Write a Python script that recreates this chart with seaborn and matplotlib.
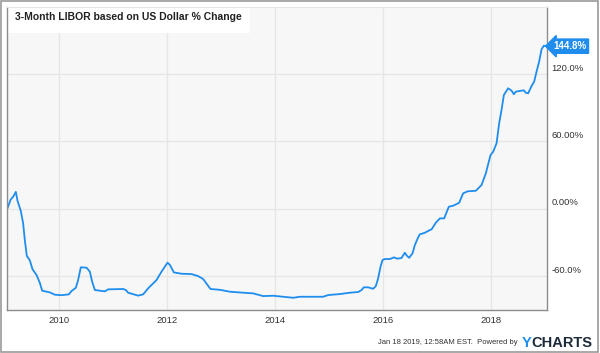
import matplotlib
matplotlib.use("Agg")
import matplotlib.pyplot as plt
import matplotlib.transforms as mtransforms
from matplotlib.patches import Rectangle
import seaborn as sns
import pandas as pd

# --- data (decimal year, % change) ---
years = [
    2009.05, 2009.106, 2009.154, 2009.204, 2009.235, 2009.296, 2009.339, 2009.37,
    2009.407, 2009.463, 2009.513, 2009.587, 2009.648, 2009.691, 2009.833, 2009.926,
    2010.05, 2010.185, 2010.235, 2010.315, 2010.357, 2010.407, 2010.513, 2010.574,
    2010.617, 2010.667, 2010.852, 2010.913, 2011.191, 2011.241, 2011.283, 2011.469,
    2011.561, 2011.654, 2011.809, 2011.902, 2012.013, 2012.056, 2012.13, 2012.272,
    2012.457, 2012.58, 2012.672, 2012.809, 2012.981, 2013.167, 2013.413, 2013.598,
    2013.783, 2013.969, 2014.154, 2014.339, 2014.463, 2014.587, 2014.894, 2014.987,
    2015.204, 2015.389, 2015.543, 2015.606, 2015.648, 2015.728, 2015.82, 2015.87,
    2015.913, 2015.957, 2015.994, 2016.037, 2016.13, 2016.209, 2016.265, 2016.346,
    2016.407, 2016.439, 2016.487, 2016.55, 2016.593, 2016.654, 2016.685, 2016.778,
    2016.87, 2016.902, 2016.981, 2017.056, 2017.135, 2017.222, 2017.302, 2017.413,
    2017.487, 2017.569, 2017.722, 2017.828, 2017.907, 2017.994, 2018.043, 2018.106,
    2018.154, 2018.198, 2018.241, 2018.32, 2018.383, 2018.426, 2018.463, 2018.569,
    2018.611, 2018.648, 2018.691, 2018.754, 2018.802, 2018.846, 2018.894, 2018.939,
    2018.981, 2019.04,
]
pct_change = [
    0.5, 8, 10.7, 15, 7, -2, -13, -28,
    -42, -46, -54, -59, -66, -73, -74.5, -76.6,
    -77, -76.3, -73.3, -70.4, -63.5, -52.2, -52.5, -56,
    -65, -72.4, -73.6, -71.8, -71.5, -72.4, -74.8, -77.4,
    -76.3, -70.9, -63.5, -56, -48, -50, -56.7, -57.9,
    -58.2, -60, -62.6, -71.5, -72.2, -73.9, -74.8, -75.4,
    -77.8, -77.5, -78.4, -79.3, -78.4, -78.4, -78.4, -76.9,
    -76, -74.8, -74.2, -72.4, -70, -70, -71.3, -68.9,
    -62, -51.6, -45.7, -44.8, -44.8, -43.3, -44.5, -43.9,
    -39.2, -41.5, -43.7, -39.7, -32.3, -25.5, -22.8, -21.4,
    -19, -18.4, -12.5, -8.6, -8.6, 1.8, 2.7, 5.3,
    13.7, 15.5, 16, 21.1, 31.5, 47.8, 50.8, 58.3,
    76.1, 88, 101.3, 107.3, 105.2, 102, 104.3, 105.2,
    105.5, 103.3, 102.8, 109.3, 113.2, 122, 131, 142,
    145.2, 144.8,
]
x_ticks = [2010, 2012, 2014, 2016, 2018]
y_ticks = [-60, 0, 60, 120]
y_tick_labels = ["-60.0%", "0.00%", "60.00%", "120.0%"]
last_label = "144.8%"

BLUE = "#1f8ded"

sns.set_style("whitegrid", {
    "axes.facecolor": "#f7f7f7",
    "grid.color": "#e6e6e6",
    "axes.edgecolor": "#8c8c8c",
})
plt.rcParams["font.family"] = ["Liberation Sans", "DejaVu Sans"]

df = pd.DataFrame({"year": years, "pct": pct_change})

fig = plt.figure(figsize=(6, 3.53), dpi=100)
ax = fig.add_axes([7 / 600, 43 / 353, 540 / 600, 303 / 353])

sns.lineplot(data=df, x="year", y="pct", ax=ax, color=BLUE, linewidth=1.3)

ax.set_xlim(2009.04, 2019.04)
ax.set_ylim(-90.2, 179.7)
ax.set_xticks(x_ticks)
ax.set_xticklabels([str(t) for t in x_ticks], fontsize=6.8, color="#333333")
ax.set_yticks(y_ticks)
ax.set_yticklabels(y_tick_labels, fontsize=6.8, color="#333333")
ax.yaxis.tick_right()
ax.tick_params(axis="both", length=0)
ax.tick_params(axis="x", pad=4)
ax.tick_params(axis="y", pad=3)
ax.set_xlabel("")
ax.set_ylabel("")
ax.grid(True, linewidth=0.9)

# y labels sit a little above their gridline
offset = mtransforms.ScaledTranslation(0, 0.07, fig.dpi_scale_trans)
for lab in ax.get_yticklabels():
    lab.set_transform(lab.get_transform() + offset)

ax.spines["top"].set_color("#e6e6e6")
for side in ["left", "right", "bottom"]:
    ax.spines[side].set_linewidth(1.0)

# title inside plot, on a white patch (kept under the spines)
ax.add_patch(Rectangle((0.0, 0.914), 0.45, 0.086, transform=ax.transAxes,
                       facecolor="white", edgecolor="none", zorder=2.2))
ax.text(0.0148, 0.967, "3-Month LIBOR based on US Dollar % Change",
        transform=ax.transAxes, ha="left", va="center", fontsize=7.5,
        fontweight="bold", color="#222222", zorder=4)

# last value tag
ax.annotate(last_label, xy=(1.0, pct_change[-1]),
            xycoords=("axes fraction", "data"),
            xytext=(4.5, 0), textcoords="offset points",
            ha="left", va="center", fontsize=7, fontweight="bold",
            color="white",
            bbox=dict(boxstyle="larrow,pad=0.22", facecolor=BLUE,
                      edgecolor=BLUE))

# footer
fig.text(518 / 600, 1 - 343 / 353, "Jan 18 2019, 12:58AM EST.  Powered by",
         ha="right", va="center", fontsize=5.5, color="#333333")
fig.text(522 / 600, 1 - 343 / 353, "Y", ha="left", va="center",
         fontsize=10.5, fontweight="bold", color=BLUE)
fig.text(592 / 600, 1 - 343 / 353, "CHARTS", ha="right", va="center",
         fontsize=10.5, fontweight="bold", color="#1c2b39")

# outer frame
fig.patches.append(Rectangle((0.002, 0.003), 0.994, 0.994,
                             transform=fig.transFigure, fill=False,
                             edgecolor="#9a9a9a", linewidth=1.2))

fig.savefig("out.png", dpi=100)
